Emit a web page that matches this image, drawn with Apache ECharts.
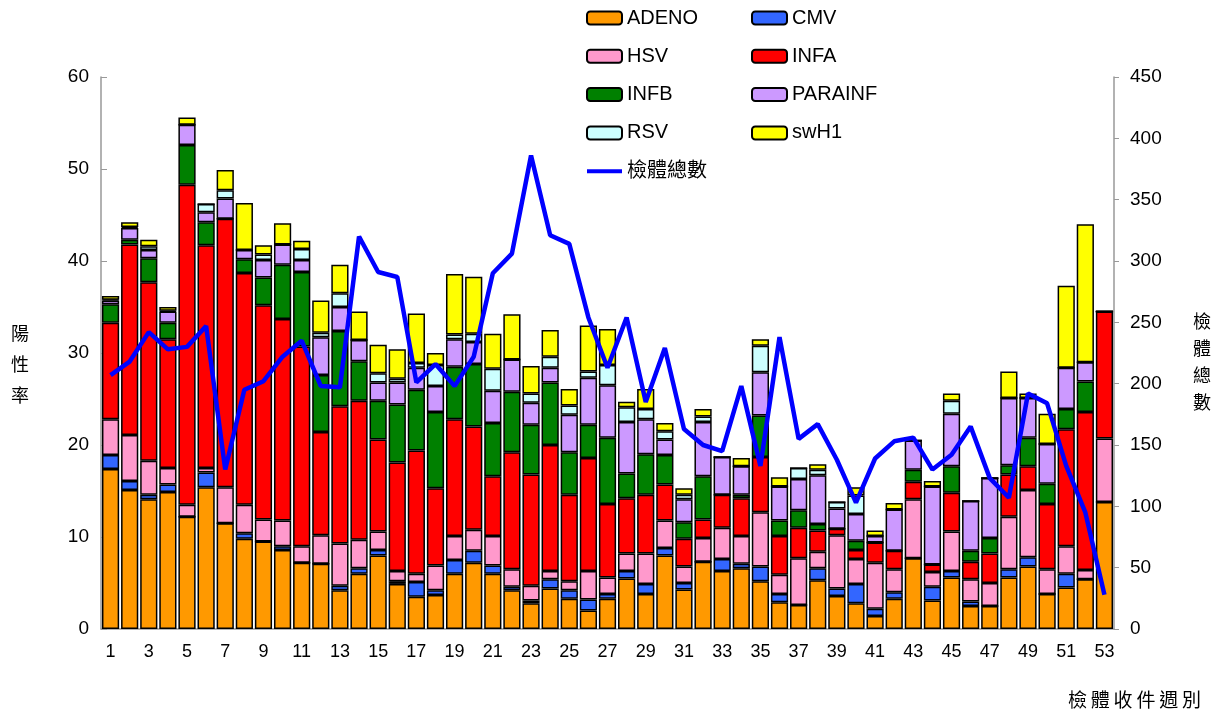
<!DOCTYPE html>
<html>
<head>
<meta charset="utf-8">
<script src="https://cdn.jsdelivr.net/npm/echarts@6/dist/echarts.min.js"></script>
<style>
  html, body { margin: 0; padding: 0; background: #fff; }
  #chart-container { width: 1223px; height: 720px; }
</style>
</head>
<body>
<div id="chart-container"></div>
<script>
// weeks 1..53
const weeks = [];
for (let i = 1; i <= 53; i++) weeks.push(String(i));

// positive rate (%) per pathogen, stacked
const adeno = [17.4, 15.1, 14.1, 14.9, 12.2, 15.4, 11.5, 9.8, 9.5, 8.6, 7.2, 7.1, 4.2, 6.0, 8.0, 4.9, 3.5, 3.7, 6.0, 7.2, 6.0, 4.2, 2.8, 4.4, 3.3, 2.0, 3.3, 5.5, 3.8, 8.0, 4.3, 7.3, 6.3, 6.6, 5.2, 2.9, 2.6, 5.3, 3.6, 2.8, 1.4, 3.3, 7.7, 3.1, 5.6, 2.5, 2.5, 5.6, 6.8, 3.8, 4.5, 5.4, 13.8];
const cmv = [1.5, 1.0, 0.5, 0.8, 0, 1.6, 0, 0.6, 0, 0.4, 0, 0, 0.5, 0.6, 0.6, 0.3, 1.6, 0.5, 1.5, 1.3, 0.9, 0.4, 0.3, 1.0, 0.9, 1.2, 0.5, 0.8, 1.1, 0.8, 0.7, 0, 1.3, 0.5, 1.6, 0.9, 0, 1.3, 0.8, 2.1, 0.8, 0.7, 0, 1.5, 0.7, 0.5, 0, 0.9, 1.0, 0, 1.5, 0, 0];
const hsv = [3.9, 5.0, 3.7, 1.8, 1.3, 0.5, 3.9, 3.1, 2.4, 2.8, 1.8, 3.1, 4.6, 3.1, 2.0, 1.1, 0.9, 2.7, 2.6, 2.3, 3.2, 1.9, 1.6, 0.9, 1.0, 3.1, 1.8, 1.9, 3.3, 3.0, 1.8, 2.6, 3.4, 3.0, 5.9, 2.1, 5.1, 1.8, 5.8, 2.7, 5.0, 2.5, 6.4, 1.6, 4.3, 2.4, 2.5, 5.7, 7.3, 2.7, 3.0, 1.0, 6.9];
const infa = [10.5, 20.7, 19.4, 14.0, 34.8, 24.2, 29.2, 25.2, 23.3, 21.9, 21.7, 11.2, 14.9, 15.1, 10.0, 11.8, 13.4, 8.4, 12.7, 11.2, 6.5, 12.7, 12.1, 13.7, 9.4, 12.3, 8.0, 6.0, 6.4, 3.9, 3.0, 2.0, 3.6, 4.1, 6.0, 4.2, 3.3, 2.3, 0.7, 1.0, 2.2, 2.0, 1.9, 0.8, 4.2, 1.9, 3.2, 4.6, 2.6, 7.1, 12.7, 17.2, 13.8];
const infb = [2.0, 0.5, 2.6, 1.8, 4.3, 2.5, 0, 1.5, 3.0, 5.9, 8.1, 6.2, 8.2, 4.3, 4.2, 6.3, 6.6, 8.3, 5.7, 6.8, 5.8, 6.6, 5.4, 6.8, 4.6, 3.6, 7.2, 2.7, 4.4, 3.2, 1.8, 4.7, 0, 0.4, 4.5, 1.7, 1.9, 0.7, 0, 1.0, 0, 0, 1.3, 0, 2.9, 1.2, 1.7, 1.0, 3.1, 2.2, 2.2, 3.3, 0];
const parainf = [0.4, 1.3, 0.9, 1.2, 2.2, 1.1, 2.2, 1.0, 1.9, 2.2, 1.3, 4.1, 2.6, 2.3, 2.0, 2.4, 2.4, 2.8, 3.0, 2.4, 3.5, 3.5, 2.4, 1.6, 4.1, 5.1, 5.7, 5.6, 3.8, 1.7, 2.5, 5.9, 4.1, 3.1, 4.7, 3.7, 3.4, 5.3, 2.2, 2.9, 0.7, 4.5, 3.2, 8.5, 5.7, 5.4, 6.5, 7.3, 4.3, 4.3, 4.5, 2.1, 0];
const rsv = [0.1, 0.1, 0.4, 0.1, 0, 0.9, 0.9, 0, 0.6, 0, 1.2, 0.5, 1.5, 0, 1.0, 0.4, 0.5, 2.3, 0.5, 0.9, 2.4, 0, 1.0, 1.2, 1.0, 0.7, 2.2, 1.6, 1.1, 0.9, 0.5, 0.6, 0, 0, 2.9, 0, 1.2, 0.6, 0.7, 2.0, 0, 0, 0, 0, 1.4, 0, 0, 0, 0, 0, 0, 0, 0];
const swh1 = [0.4, 0.5, 0.7, 0.4, 0.8, 0, 2.2, 5.1, 1.0, 2.3, 0.9, 3.5, 3.1, 3.1, 3.1, 3.2, 5.4, 1.3, 6.6, 6.2, 3.8, 4.9, 3.0, 2.9, 1.8, 5.0, 3.9, 0.6, 2.2, 0.9, 0.7, 0.8, 0, 0.9, 0.7, 1.0, 0, 0.6, 0, 0.9, 0.6, 0.7, 0, 0.6, 0.8, 0, 0, 2.9, 0.5, 3.3, 8.9, 15.0, 0];

// total specimens (right axis)
const specimens = [207, 218, 242, 228, 230, 247, 130, 195, 202, 222, 235, 198, 197, 320, 291, 287, 201, 216, 198, 222, 290, 306, 386, 321, 314, 254, 213, 254, 185, 229, 163, 150, 145, 198, 133, 238, 155, 167, 138, 103, 139, 153, 156, 130, 142, 165, 123, 107, 192, 184, 133, 95, 28];

const barSeries = [
  { name: "ADENO", data: adeno, color: "#FF9900" },
  { name: "CMV", data: cmv, color: "#3366FF" },
  { name: "HSV", data: hsv, color: "#FF99CC" },
  { name: "INFA", data: infa, color: "#FF0000" },
  { name: "INFB", data: infb, color: "#008000" },
  { name: "PARAINF", data: parainf, color: "#CC99FF" },
  { name: "RSV", data: rsv, color: "#CCFFFF" },
  { name: "swH1", data: swh1, color: "#FFFF00" },
];

const FONT = "'Liberation Sans', 'Noto Sans CJK TC', sans-serif";

var myChart = echarts.init(document.getElementById("chart-container"));

const legendText = { fontFamily: FONT, fontSize: 20, color: "#000", lineHeight: 22 };

var option = {
  backgroundColor: "#fff",
  animation: false,
  legend: [
    {
      orient: "vertical",
      left: 581,
      top: 2,
      itemWidth: 35,
      itemHeight: 13,
      itemGap: 16.3,
      textStyle: legendText,
      data: [
        "ADENO", "HSV", "INFB", "RSV",
        // plain line icon, no marker
        { name: "檢體總數", icon: "path://M0,0H80V9H0Z" },
      ],
    },
    {
      orient: "vertical",
      left: 746,
      top: 2,
      itemWidth: 35,
      itemHeight: 13,
      itemGap: 16.3,
      textStyle: legendText,
      data: ["CMV", "INFA", "PARAINF", "swH1"],
    },
  ],
  grid: { left: 101, right: 109, top: 77, bottom: 91 },
  xAxis: {
    type: "category",
    data: weeks,
    axisLine: { lineStyle: { color: "#999", width: 1.5 } },
    axisTick: { show: false },
    axisLabel: { interval: 1, margin: 14, fontFamily: FONT, fontSize: 18, color: "#000" },
  },
  yAxis: [
    {
      type: "value",
      min: 0,
      max: 60,
      interval: 10,
      splitLine: { show: false },
      axisLine: { show: true, lineStyle: { color: "#999", width: 1.5 } },
      axisTick: { show: true, inside: true, length: 6, lineStyle: { color: "#999" } },
      axisLabel: { margin: 12, fontFamily: FONT, fontSize: 19, color: "#000" },
    },
    {
      type: "value",
      min: 0,
      max: 450,
      interval: 50,
      splitLine: { show: false },
      axisLine: { show: true, lineStyle: { color: "#999", width: 1.5 } },
      axisTick: { show: true, length: 5, lineStyle: { color: "#999" } },
      axisLabel: { margin: 16, fontFamily: FONT, fontSize: 19, color: "#000" },
    },
  ],
  graphic: [
    { type: "text", left: 11, top: 318, style: { text: "陽\n性\n率", font: "18px 'Noto Sans CJK TC'", lineHeight: 31, fill: "#000" } },
    { type: "text", left: 1193, top: 308, style: { text: "檢\n體\n總\n數", font: "18px 'Noto Sans CJK TC'", lineHeight: 27, fill: "#000" } },
    { type: "text", right: 22, top: 690, style: { text: "檢\u2009體\u2009收\u2009件\u2009週\u2009別", font: "19px 'Noto Sans CJK TC'", fill: "#000" } },
  ],
  series: barSeries
    .map((s) => ({
      name: s.name,
      type: "bar",
      stack: "total",
      barCategoryGap: "10%",
      data: s.data,
      itemStyle: { color: s.color, borderColor: "#000", borderWidth: 1.5 },
    }))
    .concat([
      {
        name: "檢體總數",
        type: "line",
        yAxisIndex: 1,
        data: specimens,
        symbol: "none",
        z: 10,
        lineStyle: { color: "#0000FF", width: 4.5 },
        itemStyle: { color: "#0000FF" },
      },
    ]),
};

option && myChart.setOption(option);
</script>
</body>
</html>
